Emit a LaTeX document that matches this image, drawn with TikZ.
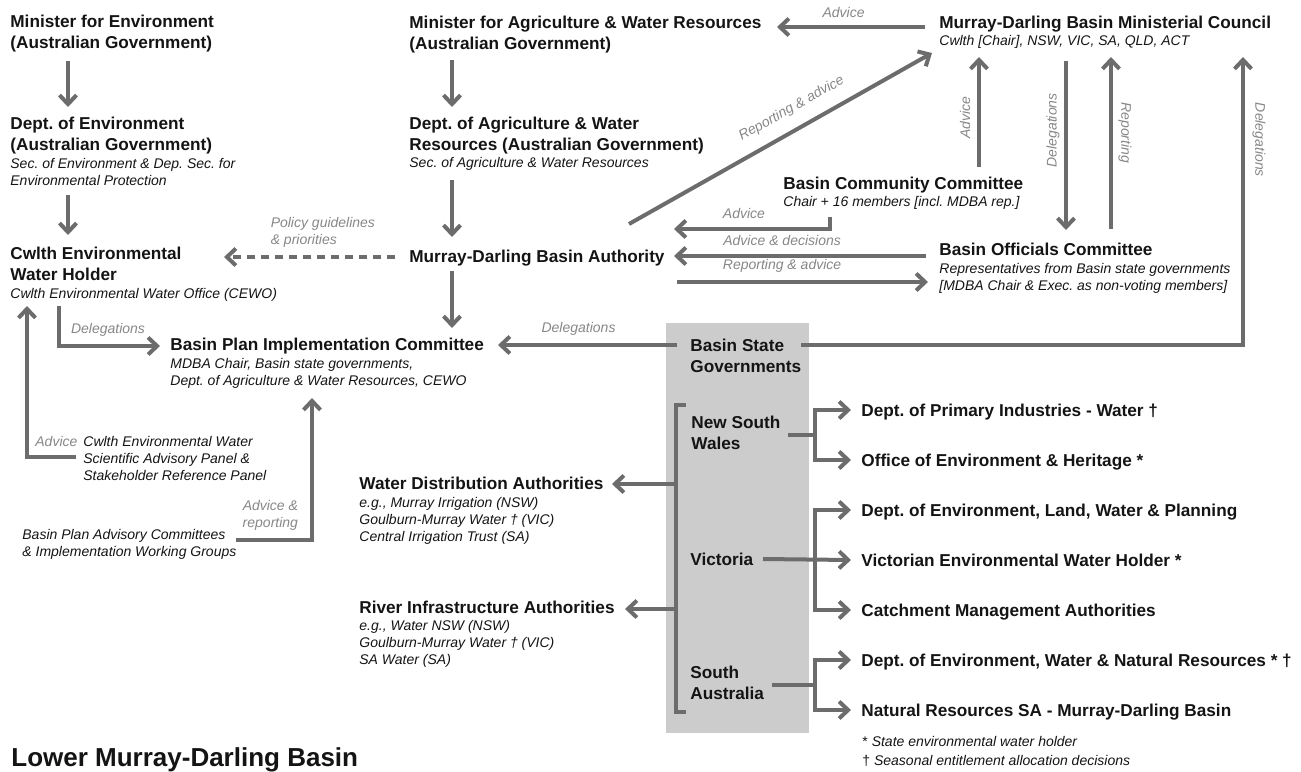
\documentclass[tikz,border=0pt]{standalone}
\usepackage{fontspec}
\setmainfont{Liberation Sans}
\usepackage{tikz}
\usetikzlibrary{positioning,arrows.meta}
\definecolor{arrowgray}{RGB}{108,108,108}
\definecolor{labelgray}{RGB}{135,135,135}
\definecolor{boxgray}{RGB}{204,204,204}
\definecolor{inkblack}{RGB}{20,20,20}
\frenchspacing

\begin{document}
\begin{tikzpicture}[
    x=0.5pt, y=-0.5pt,
    hd/.style={anchor=base west, inner sep=0pt, align=left, text=inkblack, font=\fontsize{8.6}{10.25}\selectfont\bfseries},
    sub/.style={anchor=base west, inner sep=0pt, align=left, text=inkblack, font=\fontsize{7}{8.4}\selectfont\itshape},
    ttl/.style={anchor=base west, inner sep=0pt, text=inkblack, font=\fontsize{13}{14}\selectfont\bfseries},
    lbl/.style={inner sep=1pt, text=labelgray, font=\fontsize{7}{8.2}\selectfont\itshape},
    link/.style={draw=arrowgray, line width=2pt},
    arr/.style={link, -{Straight Barb[length=4.5pt,width=8.5pt]}}
  ]
\useasboundingbox (0,0) rectangle (1301,771);

% state governments panel
\fill[boxgray] (666,323) rectangle (809,733);

% Commonwealth side (multi-line nodes sit on their last baseline)
\node[hd] (minenv) at (10,48) {Minister for Environment\\(Australian Government)};
\node[hd] (deptenv) at (10,150) {Dept. of Environment\\(Australian Government)};
\node[sub] (deptenvsub) at (10,185) {Sec. of Environment \& Dep. Sec. for\\Environmental Protection};
\node[hd] (cewh) at (10,280) {Cwlth Environmental\\Water Holder};
\node[sub] (cewhsub) at (10,298) {Cwlth Environmental Water Office (CEWO)};

\node[hd] (minag) at (409,49) {Minister for Agriculture \& Water Resources\\(Australian Government)};
\node[hd] (deptag) at (409,150) {Dept. of Agriculture \& Water\\Resources (Australian Government)};
\node[sub] (deptagsub) at (409,167) {Sec. of Agriculture \& Water Resources};
\node[hd] (mdba) at (409,262) {Murray-Darling Basin Authority};
\node[hd] (bpic) at (170,350) {Basin Plan Implementation Committee};
\node[sub] (bpicsub) at (170,385) {MDBA Chair, Basin state governments,\\Dept. of Agriculture \& Water Resources, CEWO};

\node[hd] (council) at (939,28) {Murray-Darling Basin Ministerial Council};
\node[sub] (councilsub) at (939,45) {Cwlth [Chair], NSW, VIC, SA, QLD, ACT};
\node[hd] (bcc) at (783,189) {Basin Community Committee};
\node[sub] (bccsub) at (783,206) {Chair + 16 members [incl. MDBA rep.]};
\node[hd] (boc) at (939,255) {Basin Officials Committee};
\node[sub] (bocsub) at (939,290) {Representatives from Basin state governments\\{[MDBA Chair \& Exec. as non-voting members]}};

\node[sub] (panel) at (83,480) {Cwlth Environmental Water\\Scientific Advisory Panel \&\\Stakeholder Reference Panel};
\node[sub] (bpac) at (22,556) {Basin Plan Advisory Committees\\\& Implementation Working Groups};

% operators
\node[hd] (wda) at (359,489) {Water Distribution Authorities};
\node[sub] (wdasub) at (359,541) {e.g., Murray Irrigation (NSW)\\Goulburn-Murray Water † (VIC)\\Central Irrigation Trust (SA)};
\node[hd] (ria) at (359,613) {River Infrastructure Authorities};
\node[sub] (riasub) at (359,664) {e.g., Water NSW (NSW)\\Goulburn-Murray Water † (VIC)\\SA Water (SA)};

% states
\node[hd] (bsg) at (690,372) {Basin State\\Governments};
\node[hd] (nsw) at (691,449) {New South\\Wales};
\node[hd] (vic) at (690,565) {Victoria};
\node[hd] (sa) at (690,699) {South\\Australia};

\node[hd] (dpi) at (861,416) {Dept. of Primary Industries - Water †};
\node[hd] (oeh) at (861,466) {Office of Environment \& Heritage *};
\node[hd] (delwp) at (861,516) {Dept. of Environment, Land, Water \& Planning};
\node[hd] (vewh) at (861,566) {Victorian Environmental Water Holder *};
\node[hd] (cma) at (861,616) {Catchment Management Authorities};
\node[hd] (dewnr) at (861,666) {Dept. of Environment, Water \& Natural Resources * †};
\node[hd] (nrsa) at (861,716) {Natural Resources SA - Murray-Darling Basin};

\node[sub, font=\fontsize{7}{9.5}\selectfont\itshape] (notes) at (862,765) {{\upshape *} State environmental water holder\\{\upshape †} Seasonal entitlement allocation decisions};

\node[ttl] (title) at (11,766) {Lower Murray-Darling Basin};

% vertical chains
\draw[arr] ([shift={(58,13)}]minenv.base west) -- ([shift={(58,-43)}]deptenv.base west);
\draw[arr] ([shift={(58,10)}]deptenvsub.base west) -- ([shift={(58,-45)}]cewh.base west);
\draw[arr] ([shift={(43,11)}]minag.base west) -- ([shift={(43,-43)}]deptag.base west);
\draw[arr] ([shift={(43,13)}]deptagsub.base west) -- ([shift={(43,-25)}]mdba.base west);
\draw[arr] ([shift={(43,9)}]mdba.base west) -- ([shift={(282,-22)}]bpic.base west);

% ministerial council
\draw[arr] ([shift={(-14,-1)}]council.base west) -- ([shift={(368,-22)}]minag.base west)
  node[lbl, pos=.55, anchor=south, yshift=2.5pt] {Advice};
\draw[arr] ([shift={(220,-38)}]mdba.base west) -- ([shift={(-7,8)}]councilsub.base west)
  node[lbl, pos=.57, above=5pt, sloped] {Reporting \& advice};
\draw[arr] ([shift={(196,-22)}]bcc.base west) -- ([shift={(40,12)}]councilsub.base west)
  node[lbl, pos=.45, xshift=-7pt, rotate=90] {Advice};
\draw[arr] ([shift={(127,16)}]councilsub.base west) -- ([shift={(127,-25)}]boc.base west)
  node[lbl, pos=.41, xshift=-6.5pt, rotate=90] {Delegations};
\draw[arr] ([shift={(172,-26)}]boc.base west) -- ([shift={(172,12)}]councilsub.base west)
  node[lbl, pos=.56, xshift=7pt, rotate=-90] {Reporting};
\draw[arr] ([shift={(111,-27)}]bsg.base west) -| ([shift={(304,12)}]councilsub.base west)
  node[lbl, pos=.856, xshift=8pt, rotate=-90] {Delegations};

% authority and committees
\draw[arr] ([shift={(47,11)}]bccsub.base west) |- ([shift={(265,-33)}]mdba.base west)
  node[lbl, pos=.856, anchor=south west, yshift=3pt] {Advice};
\draw[arr] ([shift={(-13,1)}]boc.base west) -- ([shift={(265,-6)}]mdba.base west)
  node[lbl, pos=.82, anchor=south west, yshift=3pt] {Advice \& decisions};
\draw[arr] ([shift={(268,20)}]mdba.base west) -- ([shift={(-11,27)}]boc.base west)
  node[lbl, pos=.167, anchor=south west, yshift=3pt] {Reporting \& advice};
\draw[arr, dash pattern=on 4pt off 3pt] ([shift={(-14,-5)}]mdba.base west) -- ([shift={(214,-23)}]cewh.base west)
  node[lbl, pos=.75, anchor=south west, yshift=3pt, align=left] {Policy guidelines\\\& priorities};

% implementation committee
\draw[arr] ([shift={(49,8)}]cewhsub.base west) |- ([shift={(-10,-4)}]bpic.base west)
  node[lbl, pos=.54, anchor=south west, yshift=3pt] {Delegations};
\draw[arr] ([shift={(-7,-23)}]panel.base west) -| ([shift={(17,8)}]cewhsub.base west)
  node[lbl, pos=.2, anchor=south, yshift=3pt] {Advice};
\draw[arr] ([shift={(214,-16)}]bpac.base west) -| ([shift={(142,13)}]bpicsub.base west)
  node[lbl, pos=.5, anchor=south east, xshift=-5pt, yshift=3pt, align=right] {Advice \&\\reporting};
\draw[arr] ([shift={(-13,-27)}]bsg.base west) -- ([shift={(328,-5)}]bpic.base west)
  node[lbl, pos=.55, anchor=south, yshift=3pt] {Delegations};

% state bracket and branches
\draw[link] ([shift={(-5,-44)}]nsw.base west) -- ++(-10,0) |- ([shift={(-4,13)}]sa.base west);
\draw[arr] ([shift={(-15,35)}]nsw.base west) -- ([shift={(253,-5)}]wda.base west);
\draw[arr] ([shift={(-14,44)}]vic.base west) -- ([shift={(266,-4)}]ria.base west);

\draw[arr] ([shift={(97,-14)}]nsw.base west) -- ++(27,0) |- ([shift={(-10,-6)}]dpi.base west);
\draw[arr] ([shift={(97,-14)}]nsw.base west) -- ++(27,0) |- ([shift={(-10,-6)}]oeh.base west);
\draw[arr] ([shift={(73,-6)}]vic.base west) -- ([shift={(-10,-6)}]vewh.base west);
\draw[arr] ([shift={(125,-6)}]vic.base west) |- ([shift={(-10,-6)}]delwp.base west);
\draw[arr] ([shift={(125,-6)}]vic.base west) |- ([shift={(-10,-6)}]cma.base west);
\draw[arr] ([shift={(82,-14)}]sa.base west) -- ++(43,0) |- ([shift={(-10,-6)}]dewnr.base west);
\draw[arr] ([shift={(82,-14)}]sa.base west) -- ++(43,0) |- ([shift={(-10,-6)}]nrsa.base west);

\end{tikzpicture}
\end{document}
